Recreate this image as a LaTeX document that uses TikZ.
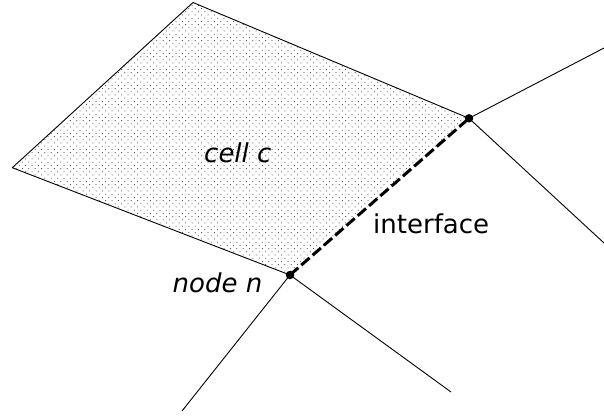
\documentclass[tikz,border=0pt]{standalone}
\usepackage{fontspec}
\setmainfont{DejaVu Sans}
\usetikzlibrary{patterns}
\pgfdeclarepatternformonly{sparsedots}{\pgfqpoint{-1pt}{-1pt}}{\pgfqpoint{6pt}{6pt}}{\pgfqpoint{6.4pt}{6.4pt}}{%
  \pgfpathcircle{\pgfqpoint{0pt}{0pt}}{0.5pt}%
  \pgfpathcircle{\pgfqpoint{3.2pt}{3.2pt}}{0.5pt}%
  \pgfusepath{fill}%
}
\tikzset{
  edge/.style={draw=black, line width=0.9pt},
  iface/.style={draw=black, line width=3pt, dash pattern=on 11pt off 4pt},
  vertex/.style={circle, fill=black, inner sep=0pt, minimum size=8.5pt},
  lbl/.style={inner sep=0pt, anchor=base west, font=\fontsize{26}{30}\selectfont},
}
\begin{document}
\begin{tikzpicture}[x=1pt,y=-1pt]
\useasboundingbox (0,0) rectangle (604,415);
\coordinate (a) at (12.3,167.7);
\coordinate (b) at (193,2.5);
\coordinate (r) at (469,118.3);
\coordinate (n) at (290,275);
\coordinate (r1) at (604,48);
\coordinate (r2) at (604,243);
\coordinate (n1) at (182,411);
\coordinate (n2) at (451,392);
\fill[pattern=sparsedots, pattern color=black!85] (a) -- (b) -- (r) -- (n) -- cycle;
\draw[edge, line join=round] (n) -- (a) -- (b) -- (r);
\draw[edge] (r) -- (r1);
\draw[edge] (r) -- (r2);
\draw[edge] (n) -- (n1);
\draw[edge] (n) -- (n2);
\draw[iface] (n) -- (r);
\node[vertex] (rv) at (r) {};
\node[vertex] (nv) at (n) {};
\node[lbl] (cl) at (204,162) {\itshape cell c};
\node[lbl] (il) at (373,233) {interface};
\node[lbl] (nl) at (172.5,292) {\itshape node n};
\end{tikzpicture}
\end{document}
